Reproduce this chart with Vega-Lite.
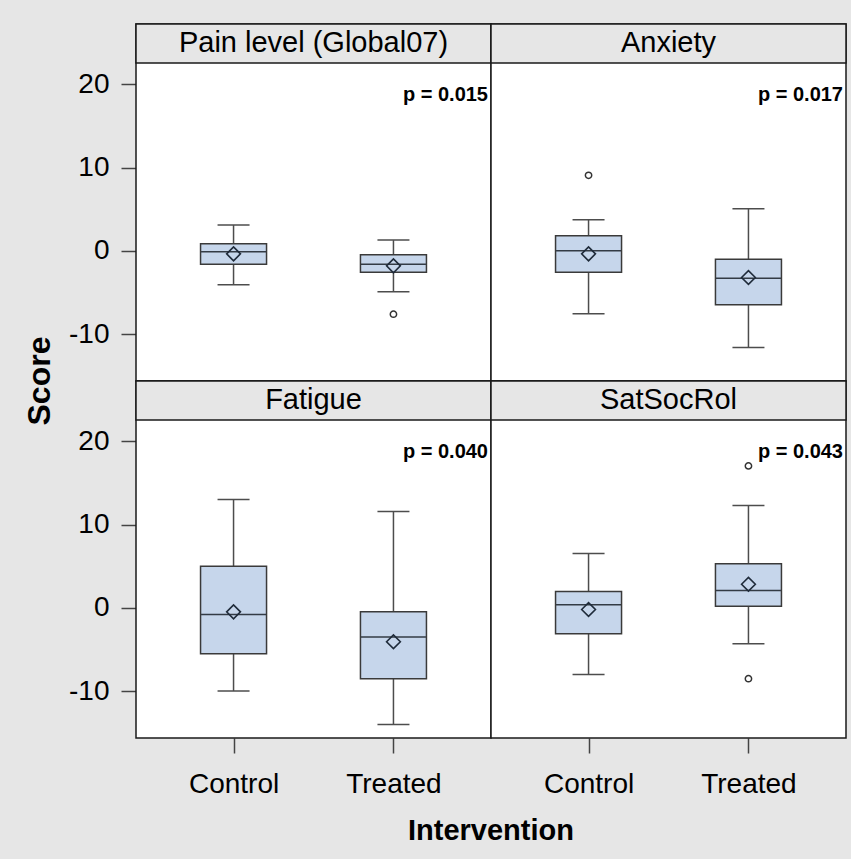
{
  "$schema": "https://vega.github.io/schema/vega-lite/v6.json",
  "background": "#e6e6e6",
  "padding": {"left": 24, "top": 22, "right": 5, "bottom": 14},
  "datasets": {
    "rows": [
      {"type": "p", "measure": "Pain level (Global07)", "row": 1, "col": 1, "label": "p = 0.015"},
      {"type": "p", "measure": "Anxiety", "row": 1, "col": 2, "label": "p = 0.017"},
      {"type": "p", "measure": "Fatigue", "row": 2, "col": 1, "label": "p = 0.040"},
      {"type": "p", "measure": "SatSocRol", "row": 2, "col": 2, "label": "p = 0.043"},
      {"type": "box", "measure": "Pain level (Global07)", "row": 1, "col": 1, "group": "Control", "lower": -4.06, "q1": -1.6, "median": -0.12, "q3": 0.84, "upper": 3.1, "mean": -0.36},
      {"type": "box", "measure": "Pain level (Global07)", "row": 1, "col": 1, "group": "Treated", "lower": -4.9, "q1": -2.57, "median": -1.6, "q3": -0.48, "upper": 1.29, "mean": -1.8},
      {"type": "box", "measure": "Anxiety", "row": 1, "col": 2, "group": "Control", "lower": -7.55, "q1": -2.57, "median": 0.0, "q3": 1.81, "upper": 3.73, "mean": -0.36},
      {"type": "box", "measure": "Anxiety", "row": 1, "col": 2, "group": "Treated", "lower": -11.6, "q1": -6.47, "median": -3.29, "q3": -1.0, "upper": 5.06, "mean": -3.2},
      {"type": "box", "measure": "Fatigue", "row": 2, "col": 1, "group": "Control", "lower": -9.98, "q1": -5.5, "median": -0.8, "q3": 4.98, "upper": 13.0, "mean": -0.48},
      {"type": "box", "measure": "Fatigue", "row": 2, "col": 1, "group": "Treated", "lower": -14.0, "q1": -8.5, "median": -3.5, "q3": -0.48, "upper": 11.57, "mean": -4.07},
      {"type": "box", "measure": "SatSocRol", "row": 2, "col": 2, "group": "Control", "lower": -8.0, "q1": -3.1, "median": 0.36, "q3": 1.95, "upper": 6.54, "mean": -0.2},
      {"type": "box", "measure": "SatSocRol", "row": 2, "col": 2, "group": "Treated", "lower": -4.3, "q1": 0.2, "median": 2.07, "q3": 5.3, "upper": 12.3, "mean": 2.83},
      {"type": "out", "measure": "Pain level (Global07)", "row": 1, "col": 1, "group": "Treated", "value": -7.6},
      {"type": "out", "measure": "Anxiety", "row": 1, "col": 2, "group": "Control", "value": 9.07},
      {"type": "out", "measure": "SatSocRol", "row": 2, "col": 2, "group": "Treated", "value": 17.04},
      {"type": "out", "measure": "SatSocRol", "row": 2, "col": 2, "group": "Treated", "value": -8.5}
    ]
  },
  "data": {"name": "rows"},
  "bounds": "flush",
  "facet": {
    "row": {"field": "row", "type": "ordinal", "title": "Score",
      "header": {"labels": false, "titleFontSize": 32, "titleFontWeight": "bold", "titlePadding": 1, "titleFont": "Liberation Sans", "titleColor": "black"}},
    "column": {"field": "col", "type": "ordinal", "title": "Intervention",
      "header": {"labels": false, "orient": "bottom", "titleFontSize": 29, "titleFontWeight": "bold", "titlePadding": 9, "titleFont": "Liberation Sans", "titleColor": "black"}}
  },
  "spacing": {"row": 0, "column": 0},
  "spec": {
    "width": 355,
    "height": 357,
    "layer": [
      {
        "transform": [{"filter": "datum.type === 'box'"}],
        "mark": {"type": "rule", "stroke": "#4d4d4d", "strokeWidth": 1.5},
        "encoding": {
          "x": {"field": "group", "type": "nominal", "scale": {"type": "point", "padding": 0.61},
            "axis": {"title": null, "labelFontSize": 28, "tickSize": 15, "labelPadding": 17, "domain": false, "grid": false, "labelAngle": 0, "tickColor": "#444444", "tickWidth": 1.5, "labelColor": "black", "labelFont": "Liberation Sans"}},
          "y": {"field": "lower", "type": "quantitative", "scale": {"domain": [-15.62, 27.23], "nice": false, "zero": false},
            "axis": {"title": null, "values": [-10, 0, 10, 20], "labelExpr": "'' + datum.value", "labelFontSize": 28, "tickSize": 15, "labelPadding": 12, "domain": false, "grid": false, "tickColor": "#444444", "tickWidth": 1.5, "labelColor": "black", "labelFont": "Liberation Sans"}},
          "y2": {"field": "upper"}
        }
      },
      {
        "transform": [{"filter": "datum.type === 'box'"}],
        "mark": {"type": "tick", "orient": "horizontal", "size": 32, "thickness": 1.5, "color": "#4d4d4d", "opacity": 1},
        "encoding": {
          "x": {"field": "group", "type": "nominal"},
          "y": {"field": "lower", "type": "quantitative"}
        }
      },
      {
        "transform": [{"filter": "datum.type === 'box'"}],
        "mark": {"type": "tick", "orient": "horizontal", "size": 32, "thickness": 1.5, "color": "#4d4d4d", "opacity": 1},
        "encoding": {
          "x": {"field": "group", "type": "nominal"},
          "y": {"field": "upper", "type": "quantitative"}
        }
      },
      {
        "transform": [{"filter": "datum.type === 'box'"}],
        "mark": {"type": "bar", "size": 66, "fill": "#c6d6eb", "stroke": "#3a3a3a", "strokeWidth": 1.5},
        "encoding": {
          "x": {"field": "group", "type": "nominal"},
          "y": {"field": "q1", "type": "quantitative"},
          "y2": {"field": "q3"}
        }
      },
      {
        "transform": [{"filter": "datum.type === 'box'"}],
        "mark": {"type": "tick", "orient": "horizontal", "size": 65, "thickness": 1.5, "color": "#333b45", "opacity": 1},
        "encoding": {
          "x": {"field": "group", "type": "nominal"},
          "y": {"field": "median", "type": "quantitative"}
        }
      },
      {
        "transform": [{"filter": "datum.type === 'box'"}],
        "mark": {"type": "point", "shape": "diamond", "filled": false, "size": 190, "stroke": "#1f2b3a", "strokeWidth": 1.6, "opacity": 1},
        "encoding": {
          "x": {"field": "group", "type": "nominal"},
          "y": {"field": "mean", "type": "quantitative"}
        }
      },
      {
        "transform": [{"filter": "datum.type === 'out'"}],
        "mark": {"type": "point", "shape": "circle", "filled": false, "size": 40, "stroke": "#333333", "strokeWidth": 1.5, "opacity": 1},
        "encoding": {
          "x": {"field": "group", "type": "nominal"},
          "y": {"field": "value", "type": "quantitative"}
        }
      },
      {
        "transform": [{"filter": "datum.type === 'p'"}],
        "mark": {"type": "text", "fontSize": 20, "fontWeight": "bold", "align": "right", "baseline": "alphabetic", "dx": -3, "color": "black", "font": "Liberation Sans"},
        "encoding": {
          "text": {"field": "label"},
          "x": {"value": "width"},
          "y": {"datum": 18}
        }
      },
      {
        "transform": [{"filter": "datum.type === 'p'"}],
        "mark": {"type": "rect", "fill": "#e6e6e6", "stroke": "#1a1a1a", "strokeWidth": 1.5},
        "encoding": {
          "x": {"value": 0},
          "x2": {"value": "width"},
          "y": {"datum": 22.55},
          "y2": {"datum": 27.23}
        }
      },
      {
        "transform": [{"filter": "datum.type === 'p'"}],
        "mark": {"type": "text", "fontSize": 29, "align": "center", "baseline": "middle", "color": "black", "font": "Liberation Sans"},
        "encoding": {
          "text": {"field": "measure"},
          "x": {"value": {"expr": "child_width / 2"}},
          "y": {"datum": 24.9}
        }
      }
    ]
  },
  "config": {
    "font": "Liberation Sans",
    "view": {"stroke": "#1a1a1a", "strokeWidth": 1.5, "fill": "white"}
  }
}
